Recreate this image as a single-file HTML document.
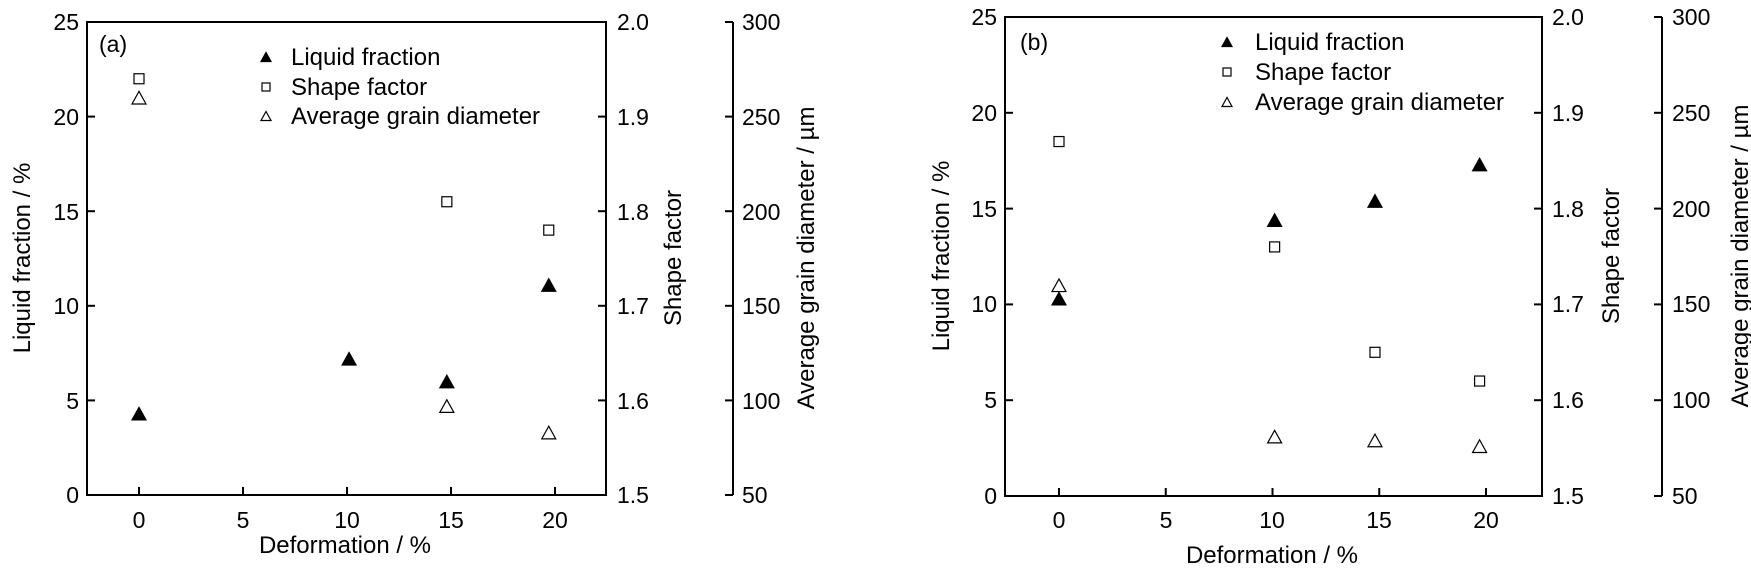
<!DOCTYPE html>
<html><head><meta charset="utf-8"><style>
html,body{margin:0;padding:0;background:#fff;}
svg{display:block;font-family:"Liberation Sans",Arial,sans-serif;}
</style></head><body>
<svg id="s" width="1751" height="568" viewBox="0 0 1751 568" xmlns="http://www.w3.org/2000/svg">
<g font-size="23" fill="#000">
<!-- Panel a texts -->
<g text-anchor="end">
<text x="79" y="30">25</text><text x="79" y="125">20</text><text x="79" y="220">15</text>
<text x="79" y="314">10</text><text x="79" y="409">5</text><text x="79" y="503">0</text>
</g>
<g text-anchor="start">
<text x="617" y="30">2.0</text><text x="617" y="125">1.9</text><text x="617" y="220">1.8</text>
<text x="617" y="314">1.7</text><text x="617" y="409">1.6</text><text x="617" y="503">1.5</text>
<text x="742" y="30">300</text><text x="742" y="125">250</text><text x="742" y="220">200</text>
<text x="742" y="314">150</text><text x="742" y="409">100</text><text x="742" y="503">50</text>
</g>
<g text-anchor="middle">
<text x="139" y="528">0</text><text x="243" y="528">5</text><text x="347" y="528">10</text>
<text x="451" y="528">15</text><text x="555" y="528">20</text>
<text x="345" y="553" font-size="24">Deformation / %</text>
<text transform="translate(30,258) rotate(-90)" font-size="24">Liquid fraction / %</text>
<text transform="translate(681,258) rotate(-90)" font-size="24">Shape factor</text>
<text transform="translate(814,258) rotate(-90)" font-size="24">Average grain diameter / µm</text>
</g>
<text x="99" y="52" font-size="23">(a)</text>
<text x="291" y="65" font-size="24">Liquid fraction</text>
<text x="291" y="95" font-size="24">Shape factor</text>
<text x="291" y="124" font-size="24">Average grain diameter</text>

<!-- Panel b texts -->
<g text-anchor="end">
<text x="997" y="25">25</text><text x="997" y="121">20</text><text x="997" y="217">15</text>
<text x="997" y="312">10</text><text x="997" y="408">5</text><text x="997" y="504">0</text>
</g>
<g text-anchor="start">
<text x="1552" y="25">2.0</text><text x="1552" y="121">1.9</text><text x="1552" y="217">1.8</text>
<text x="1552" y="312">1.7</text><text x="1552" y="408">1.6</text><text x="1552" y="504">1.5</text>
<text x="1672" y="25">300</text><text x="1672" y="121">250</text><text x="1672" y="217">200</text>
<text x="1672" y="312">150</text><text x="1672" y="408">100</text><text x="1672" y="504">50</text>
</g>
<g text-anchor="middle">
<text x="1059" y="528">0</text><text x="1166" y="528">5</text><text x="1272" y="528">10</text>
<text x="1379" y="528">15</text><text x="1486" y="528">20</text>
<text x="1272" y="563" font-size="24">Deformation / %</text>
<text transform="translate(949,256) rotate(-90)" font-size="24">Liquid fraction / %</text>
<text transform="translate(1619,256) rotate(-90)" font-size="24">Shape factor</text>
<text transform="translate(1748,256) rotate(-90)" font-size="24">Average grain diameter / µm</text>
</g>
<text x="1020" y="50" font-size="23">(b)</text>
<text x="1255" y="50" font-size="24">Liquid fraction</text>
<text x="1255" y="80" font-size="24">Shape factor</text>
<text x="1255" y="110" font-size="24">Average grain diameter</text>
</g>
<g id="g" stroke="#000" stroke-width="2" fill="none"></g>
</svg>
<script>
var g=document.getElementById('g'),ns="http://www.w3.org/2000/svg";
function el(t,a){var e=document.createElementNS(ns,t);for(var k in a)e.setAttribute(k,a[k]);g.appendChild(e);return e;}
function ln(x1,y1,x2,y2){el('line',{x1:x1,y1:y1,x2:x2,y2:y2});}
function tri(x,y,s,f){var h=s*0.9;el('polygon',{points:(x-s/2)+','+(y+h/2)+' '+(x+s/2)+','+(y+h/2)+' '+x+','+(y-h/2),fill:f?'#000':'#fff','stroke-width':1.2});}
function sq(x,y,s){el('rect',{x:x-s/2,y:y-s/2,width:s,height:s,fill:'#fff','stroke-width':1.2});}
function panel(L,R,T,B,x0,xs,ax3,lf,sf,gd){
 el('rect',{x:L,y:T,width:R-L,height:B-T});
 var ys=(B-T)/25;
 for(var i=0;i<=5;i++){var y=B-i*5*ys;ln(L,y,L+8,y);ln(R,y,R-8,y);ln(ax3,y,ax3-8,y);}
 ln(ax3,T,ax3,B);
 for(var i=0;i<=4;i++){var x=x0+i*5*xs;ln(x,B,x,B-8);}
 function X(v){return x0+v*xs;} function Y(v){return B-v*ys;}
 lf.forEach(function(p){tri(X(p[0]),Y(p[1]),14,true);});
 sf.forEach(function(p){sq(X(p[0]),Y(p[1]),10);});
 gd.forEach(function(p){tri(X(p[0]),Y(p[1]),14,false);});
}
panel(87,606,22,495,139,20.8,733,
 [[0,4.3],[10.1,7.2],[14.8,6],[19.7,11.1]],
 [[0,22],[14.8,15.5],[19.7,14]],
 [[0,21],[14.8,4.7],[19.7,3.3]]);
panel(1005,1542,17,496,1059,21.35,1662,
 [[0,10.3],[10.1,14.4],[14.8,15.4],[19.7,17.3]],
 [[0,18.5],[10.1,13],[14.8,7.5],[19.7,6]],
 [[0,11],[10.1,3.1],[14.8,2.9],[19.7,2.6]]);
tri(266,57,10,true);sq(266,87,8);tri(266,116,10,false);
tri(1227,42,10,true);sq(1227,72,8);tri(1227,102,10,false);
</script>
</body></html>
